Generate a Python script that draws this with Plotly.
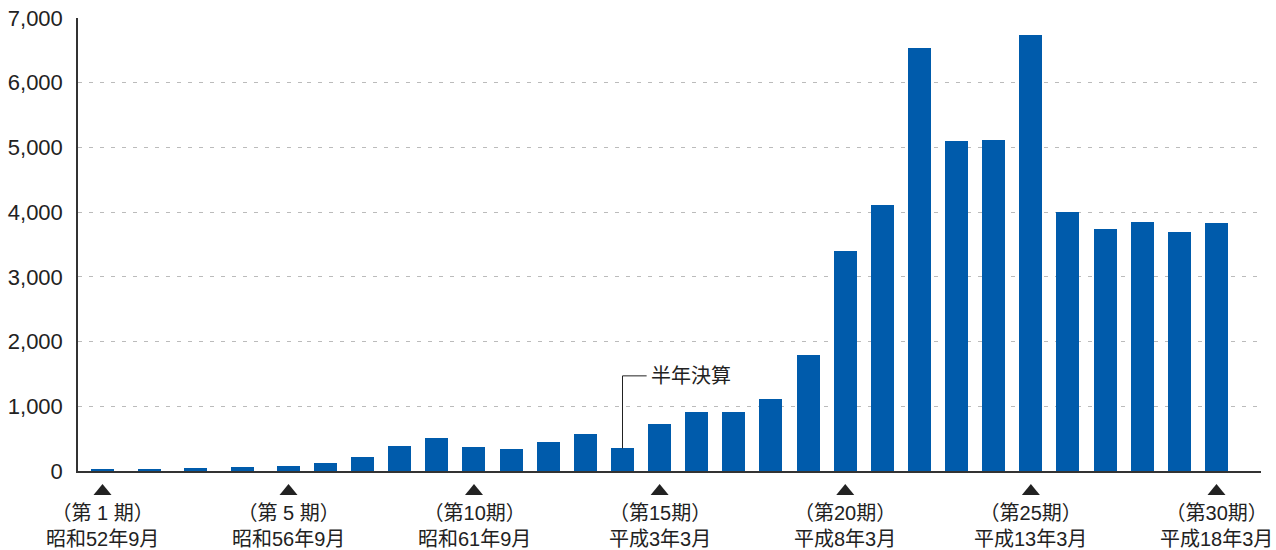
import plotly.graph_objects as go

# ---- data ----
periods = list(range(1, 31))
values = [20, 36, 51, 66, 82, 128, 221, 391, 504, 365,
          334, 443, 566, 350, 721, 905, 905, 1108, 1800, 3400,
          4110, 6540, 5100, 5110, 6740, 4010, 3740, 3850, 3690, 3830]
label_periods = [1, 5, 10, 15, 20, 25, 30]
label_line1 = ["（第 1 期）", "（第 5 期）", "（第10期）", "（第15期）", "（第20期）", "（第25期）", "（第30期）"]
label_line2 = ["昭和52年9月", "昭和56年9月", "昭和61年9月", "平成3年3月", "平成8年3月", "平成13年3月", "平成18年3月"]
half_year_period = 14
half_year_text = "半年決算"
y_ticks = [0, 1000, 2000, 3000, 4000, 5000, 6000, 7000]

BLUE = "#005bab"
TXT = "#222222"
FONT = "Liberation Sans, Noto Sans CJK JP, sans-serif"
split = 5  # first periods drawn on the wider-spaced axis

p1 = [p for p in periods if p <= split]
v1 = [v for p, v in zip(periods, values) if p <= split]
p2 = [p for p in periods if p > split]
v2 = [v for p, v in zip(periods, values) if p > split]

fig = go.Figure()
fig.add_trace(go.Bar(x=p1, y=v1, xaxis="x", yaxis="y", marker_color=BLUE,
                     marker_line_width=0, width=0.495, hoverinfo="x+y", showlegend=False))
fig.add_trace(go.Bar(x=p2, y=v2, xaxis="x2", yaxis="y", marker_color=BLUE,
                     marker_line_width=0, width=0.62, hoverinfo="x+y", showlegend=False))

d = 0.1936
axis_common = dict(showline=True, linecolor="#333333", linewidth=1.5, showgrid=False,
                   zeroline=False, showticklabels=False, ticks="", fixedrange=True,
                   automargin=False)

annotations = []
shapes = []
for p, l1, l2 in zip(label_periods, label_line1, label_line2):
    xr = "x" if p <= split else "x2"
    shapes.append(dict(type="path", xref=xr, yref="paper", xsizemode="pixel", ysizemode="pixel",
                       xanchor=p, yanchor=0, path="M -9,-24 L 9,-24 L 0,-13 Z",
                       fillcolor=TXT, line=dict(width=0), layer="above"))
    annotations.append(dict(x=p, y=0, xref=xr, yref="y", xanchor="center", yanchor="top",
                            yshift=-29, showarrow=False, text=f"{l1}<br>{l2}",
                            font=dict(family=FONT, size=20, color=TXT)))

hv = values[periods.index(half_year_period)]
elbow_y = 1470
elbow_x = half_year_period + 0.65
shapes.append(dict(type="path", xref="x2", yref="y",
                   path=f"M {half_year_period},{hv} L {half_year_period},{elbow_y} L {elbow_x},{elbow_y}",
                   line=dict(color=TXT, width=1)))
annotations.append(dict(x=elbow_x, y=elbow_y, xref="x2", yref="y", xanchor="left", yanchor="middle",
                        xshift=2, showarrow=False, text=half_year_text,
                        font=dict(family=FONT, size=20, color=TXT)))

fig.update_layout(
    width=1276, height=550,
    margin=dict(l=78, r=15, t=18, b=79, autoexpand=False),
    paper_bgcolor="white", plot_bgcolor="white",
    xaxis=dict(domain=[0, d], range=[0.473, 5.398], anchor="y", **axis_common),
    xaxis2=dict(domain=[d, 1], range=[5.502, 31.199], anchor="y", **axis_common),
    yaxis=dict(range=[0, 7000], tickvals=y_ticks, tickformat=",", showgrid=True,
               gridcolor="#bbbbbb", gridwidth=1, griddash="4px,7px",
               showline=True, linecolor="#333333", linewidth=1.5, zeroline=False,
               ticks="", ticklabelstandoff=9, fixedrange=True, automargin=False,
               tickfont=dict(family=FONT, size=22, color=TXT)),
    shapes=shapes, annotations=annotations,
    bargap=0,
)

fig.write_html("out.html")
